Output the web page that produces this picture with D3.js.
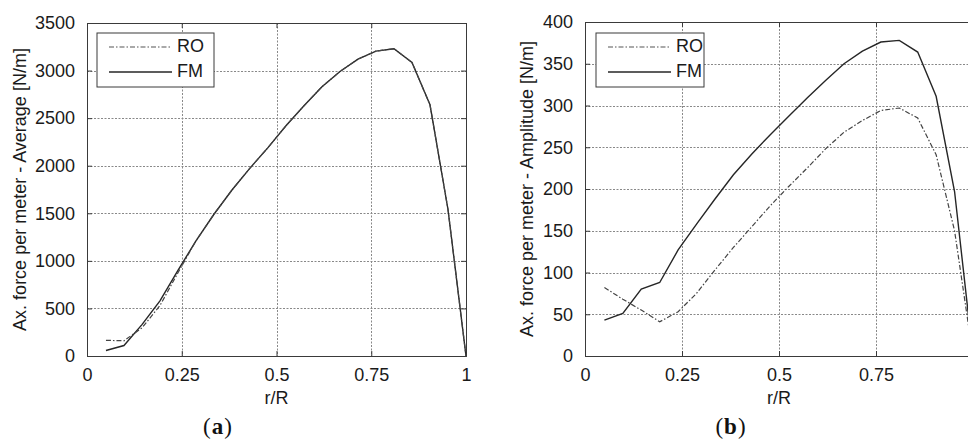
<!DOCTYPE html>
<html>
<head>
<meta charset="utf-8">
<script src="https://cdn.jsdelivr.net/npm/d3@7"></script>
<style>
  body { margin: 0; background: #fff; }
  svg { display: block; }
</style>
</head>
<body>
<div id="chart"></div>
<script>
// r/R stations
const stations = [0.05, 0.0975, 0.145, 0.1925, 0.24, 0.2875, 0.335, 0.3825, 0.43, 0.4775,
  0.525, 0.5725, 0.62, 0.6675, 0.715, 0.7625, 0.81, 0.8575, 0.905, 0.9525, 1.0];

// (a) average axial force per meter [N/m]
const avgRO = [165, 160, 295, 530, 875, 1210, 1490, 1745, 1975, 2190,
  2420, 2630, 2830, 2990, 3120, 3205, 3230, 3085, 2640, 1540, 0];
const avgFM = [58, 110, 330, 580, 900, 1210, 1490, 1745, 1975, 2190,
  2420, 2630, 2830, 2990, 3120, 3205, 3230, 3085, 2640, 1540, 0];

// (b) amplitude of axial force per meter [N/m]
const ampRO = [82, 68, 55, 41, 53, 75, 103, 130, 155, 180,
  203, 225, 248, 268, 282, 294, 297, 285, 241, 150, 0];
const ampFM = [43, 51, 80, 88, 127, 158, 188, 217, 242, 265,
  287, 309, 330, 350, 365, 376, 378, 364, 311, 197, 0];

const xTicks = [0, 0.25, 0.5, 0.75, 1];
const avgTicks = [0, 500, 1000, 1500, 2000, 2500, 3000, 3500];
const ampTicks = [0, 50, 100, 150, 200, 250, 300, 350, 400];

const svg = d3.select("#chart").append("svg")
    .attr("width", 968)
    .attr("height", 440);

const font = "'Liberation Sans', Arial, Helvetica, sans-serif";
const ink = "#3a3a3a";

function panel(opt) {
  const x = d3.scaleLinear().domain([0, 1]).range([opt.left, opt.right]);
  const y = d3.scaleLinear().domain([0, opt.ymax]).range([356, opt.top]);
  const g = svg.append("g");

  // dotted grid lines
  const snap = v => Math.round(v) + 0.5;
  g.append("g").selectAll("line")
    .data(xTicks.slice(1, -1))
    .join("line")
      .attr("x1", d => snap(x(d))).attr("x2", d => snap(x(d)))
      .attr("y1", y(opt.ymax)).attr("y2", y(0));
  g.append("g").selectAll("line")
    .data(opt.yTicks.slice(1, -1))
    .join("line")
      .attr("x1", x(0)).attr("x2", x(1))
      .attr("y1", d => snap(y(d))).attr("y2", d => snap(y(d)));
  g.selectAll("g > line")
      .style("stroke", "#888")
      .style("stroke-width", "1px")
      .style("stroke-dasharray", "2,1.5");

  // axes (ticks pointing inward, on all four sides)
  const axB = d3.axisBottom(x).tickValues(opt.xLabels).tickSize(-5).tickPadding(12)
      .tickFormat(d3.format(""));
  const axT = d3.axisTop(x).tickValues(xTicks).tickSize(-5).tickFormat("");
  const axL = d3.axisLeft(y).tickValues(opt.yTicks).tickSize(-5).tickPadding(12)
      .tickFormat(d3.format("d"));
  const axR = d3.axisRight(y).tickValues(opt.yTicks).tickSize(-5).tickFormat("");

  function styleAxis(sel) {
    sel.select(".domain").attr("stroke", ink).attr("stroke-width", 1);
    sel.selectAll(".tick line").attr("stroke", ink);
    sel.selectAll("text").attr("fill", "#1a1a1a").style("font-family", font).style("font-size", "18px");
  }
  g.append("g").attr("transform", `translate(0,${y(0)})`).call(axB).call(styleAxis)
      .selectAll("text").attr("dy", "0.71em");
  g.append("g").attr("transform", `translate(0,${y(opt.ymax)})`).call(axT).call(styleAxis);
  g.append("g").attr("transform", `translate(${x(0)},0)`).call(axL).call(styleAxis);
  g.append("g").attr("transform", `translate(${x(1)},0)`).call(axR).call(styleAxis);

  // lines
  const line = vals => d3.line()
      .x((d, i) => x(stations[i]))
      .y(d => y(d))(vals);
  g.append("path").attr("d", line(opt.fm))
      .attr("fill", "none").attr("stroke", "#262626").attr("stroke-width", 1.4);
  g.append("path").attr("d", line(opt.ro))
      .attr("fill", "none").attr("stroke", "#444").attr("stroke-width", 1.2)
      .attr("stroke-dasharray", "5,2,1.5,2");

  // labels
  g.append("text")
      .attr("x", (x(0) + x(1)) / 2).attr("y", 404)
      .attr("text-anchor", "middle")
      .style("font-family", font).style("font-size", "18px").attr("fill", "#1a1a1a")
      .text("r/R");
  g.append("text")
      .attr("transform", `translate(${opt.ylabelX},${(y(0) + y(opt.ymax)) / 2}) rotate(-90)`)
      .attr("text-anchor", "middle").attr("dominant-baseline", "middle")
      .style("font-family", font).style("font-size", "18px").attr("fill", "#1a1a1a")
      .text(opt.ylabel);
  const cap = g.append("text")
      .attr("x", opt.capX).attr("y", 434)
      .attr("text-anchor", "middle")
      .style("font-family", "'Liberation Serif', 'Times New Roman', serif")
      .style("font-size", "23px").style("letter-spacing", "1px").attr("fill", "#111");
  cap.append("tspan").text("(");
  cap.append("tspan").attr("font-weight", "bold").text(opt.cap);
  cap.append("tspan").text(")");

  // legend
  const lg = g.append("g");
  lg.append("rect")
      .attr("x", opt.legX).attr("y", 33).attr("width", opt.legW).attr("height", 54)
      .attr("fill", "#fff").attr("stroke", ink).attr("stroke-width", 1);
  const items = [
    {name: "RO", dash: "5,2,1.5,2", w: 1.1, c: "#555"},
    {name: "FM", dash: null, w: 1.4, c: "#262626"}
  ];
  items.forEach((it, i) => {
    const yy = 47 + i * 25;
    lg.append("line")
        .attr("x1", opt.legX + 12).attr("x2", opt.legX + 75)
        .attr("y1", yy).attr("y2", yy)
        .attr("stroke", it.c).attr("stroke-width", it.w)
        .attr("stroke-dasharray", it.dash);
    lg.append("text")
        .attr("x", opt.legX + 80).attr("y", yy)
        .attr("dominant-baseline", "middle")
        .style("font-family", font).style("font-size", "18px").attr("fill", "#1a1a1a")
        .text(it.name);
  });
}

panel({
  left: 87, right: 466, top: 23, ymax: 3500, yTicks: avgTicks, xLabels: xTicks,
  ro: avgRO, fm: avgFM,
  ylabel: "Ax. force per meter - Average [N/m]", ylabelX: 21,
  cap: "a", capX: 218, legX: 97, legW: 117
});
// the right panel runs past the picture edge, so its "1" label is not shown
panel({
  left: 585, right: 973, top: 22, ymax: 400, yTicks: ampTicks, xLabels: xTicks.slice(0, -1),
  ro: ampRO, fm: ampFM,
  ylabel: "Ax. force per meter - Amplitude [N/m]", ylabelX: 528,
  cap: "b", capX: 731, legX: 596, legW: 108
});
</script>
</body>
</html>
